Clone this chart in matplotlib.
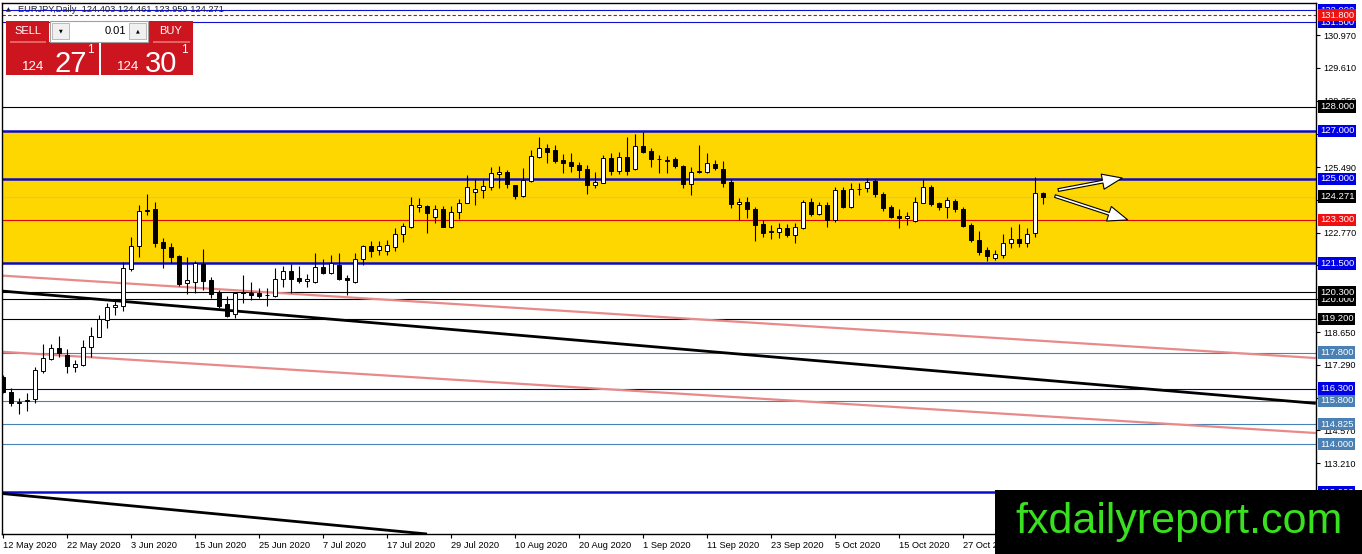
import matplotlib
matplotlib.use('Agg')
import matplotlib.pyplot as plt
from matplotlib.patches import Rectangle
from matplotlib.transforms import blended_transform_factory

# ---------------- data ----------------
opens = [116.80, 116.15, 115.69, 115.80, 115.86, 117.04, 117.54, 117.97, 117.70, 117.18,
         117.29, 118.01, 118.46, 119.15, 119.70, 119.73, 121.25, 122.23, 123.70, 123.74,
         122.40, 122.16, 121.80, 120.67, 120.74, 121.47, 120.81, 120.26, 119.81, 119.40,
         120.30, 120.28, 120.26, 120.17, 120.15, 120.84, 121.18, 120.88, 120.75, 120.74,
         121.33, 121.11, 121.43, 120.88, 120.74, 121.67, 122.22, 122.05, 122.02, 122.19,
         122.70, 123.02, 123.82, 123.88, 123.41, 123.74, 123.02, 123.64, 123.99, 124.47,
         124.54, 124.68, 125.19, 125.30, 124.75, 124.29, 124.93, 125.92, 126.27, 126.20,
         125.79, 125.72, 125.58, 125.40, 124.75, 124.85, 125.86, 125.34, 125.90, 125.40,
         126.37, 126.17, 125.83, 125.76, 125.81, 125.54, 124.79, 125.28, 125.30, 125.62,
         125.40, 124.89, 123.96, 124.04, 123.74, 123.13, 122.80, 122.79, 122.95, 122.67,
         122.95, 124.06, 123.55, 123.92, 123.30, 124.54, 123.85, 124.57, 124.61, 124.93,
         124.38, 123.85, 123.46, 123.37, 123.27, 124.01, 124.68, 124.01, 123.82, 124.10,
         123.74, 123.09, 122.47, 122.05, 121.71, 121.84, 122.33, 122.50, 122.33, 122.77,
         124.403]
highs = [116.87, 116.31, 115.90, 116.10, 117.18, 118.15, 118.15, 118.48, 117.93, 117.49,
         118.32, 118.87, 119.35, 119.87, 119.95, 121.57, 122.58, 123.92, 124.38, 124.06,
         122.54, 122.33, 121.84, 121.75, 121.60, 122.09, 120.94, 120.39, 120.14, 120.32,
         121.01, 120.74, 120.46, 120.46, 121.29, 121.39, 121.47, 121.39, 121.06, 121.94,
         121.67, 121.84, 121.91, 121.01, 121.91, 122.26, 122.44, 122.44, 122.47, 122.95,
         123.16, 124.26, 124.20, 123.90, 123.92, 123.88, 123.88, 124.16, 125.16, 124.99,
         124.99, 125.48, 125.54, 125.37, 124.75, 125.44, 126.20, 126.73, 126.45, 126.41,
         126.04, 126.06, 125.72, 125.58, 125.30, 125.99, 126.09, 126.13, 126.75, 126.87,
         126.96, 126.27, 125.99, 125.95, 125.90, 125.58, 125.51, 126.41, 126.06, 125.79,
         125.76, 124.99, 124.20, 124.26, 123.85, 123.30, 123.09, 123.16, 123.13, 123.19,
         124.13, 124.20, 124.06, 124.06, 124.68, 124.68, 124.85, 124.85, 125.03, 124.99,
         124.47, 123.90, 123.74, 123.64, 124.24, 124.99, 124.75, 124.06, 124.26, 124.16,
         123.85, 123.16, 122.85, 122.19, 122.05, 122.72, 122.99, 123.13, 122.95, 125.09,
         124.461]
lows = [116.12, 115.59, 115.25, 115.38, 115.72, 116.96, 117.49, 117.62, 116.93, 117.00,
        117.24, 117.62, 118.43, 118.80, 119.36, 119.53, 121.19, 121.77, 123.50, 122.16,
        121.29, 121.50, 120.56, 120.23, 120.26, 120.39, 120.05, 119.63, 119.28, 119.24,
        119.84, 119.98, 120.05, 119.73, 120.09, 120.53, 120.26, 120.67, 120.53, 120.67,
        121.06, 121.06, 120.81, 120.18, 120.70, 121.43, 121.77, 121.84, 121.84, 122.02,
        122.40, 122.98, 123.64, 122.77, 123.18, 122.99, 122.95, 123.33, 123.99, 123.92,
        124.20, 124.54, 124.61, 124.61, 124.16, 124.24, 124.89, 125.86, 125.67, 125.65,
        125.26, 125.30, 125.03, 124.38, 124.61, 124.82, 125.16, 125.20, 125.16, 125.37,
        126.09, 125.51, 125.23, 125.26, 125.47, 124.61, 124.33, 125.23, 125.23, 125.37,
        124.68, 123.78, 123.30, 123.37, 122.44, 122.60, 122.50, 122.54, 122.58, 122.33,
        122.91, 123.46, 123.50, 122.99, 123.23, 123.78, 123.78, 124.33, 124.47, 124.24,
        123.68, 123.37, 122.95, 123.09, 123.23, 123.99, 123.88, 123.71, 123.37, 123.64,
        122.99, 122.37, 121.84, 121.61, 121.64, 121.71, 122.12, 122.16, 122.16, 122.60,
        123.959]
closes = [116.17, 115.69, 115.76, 115.83, 117.07, 117.56, 117.97, 117.76, 117.25, 117.31,
          118.01, 118.48, 119.18, 119.67, 119.75, 121.29, 122.23, 123.67, 123.66, 122.36,
          122.15, 121.77, 120.64, 120.81, 121.50, 120.77, 120.23, 119.73, 119.31, 120.28,
          120.26, 120.18, 120.15, 120.19, 120.84, 121.18, 120.86, 120.75, 120.85, 121.33,
          121.11, 121.50, 120.84, 120.81, 121.67, 122.22, 122.01, 122.23, 122.26, 122.72,
          123.05, 123.92, 123.90, 123.60, 123.74, 122.99, 123.64, 123.99, 124.65, 124.57,
          124.71, 125.24, 125.30, 124.78, 124.29, 124.96, 125.95, 126.27, 126.13, 125.76,
          125.65, 125.54, 125.37, 124.75, 124.87, 125.86, 125.34, 125.90, 125.34, 126.37,
          126.13, 125.81, 125.81, 125.78, 125.54, 124.79, 125.30, 125.32, 125.68, 125.44,
          124.85, 123.96, 124.04, 123.74, 123.09, 122.77, 122.83, 122.95, 122.67, 122.99,
          124.06, 123.55, 123.92, 123.30, 124.54, 123.85, 124.57, 124.59, 124.89, 124.38,
          123.78, 123.43, 123.37, 123.46, 124.06, 124.68, 123.96, 123.82, 124.13, 123.74,
          123.05, 122.47, 121.98, 121.80, 121.87, 122.33, 122.50, 122.33, 122.72, 124.40,
          124.271]

date_labels = ["12 May 2020", "22 May 2020", "3 Jun 2020", "15 Jun 2020", "25 Jun 2020",
               "7 Jul 2020", "17 Jul 2020", "29 Jul 2020", "10 Aug 2020", "20 Aug 2020",
               "1 Sep 2020", "11 Sep 2020", "23 Sep 2020", "5 Oct 2020", "15 Oct 2020",
               "27 Oct 2020"]
date_bar_index = [0, 8, 16, 24, 32, 40, 48, 56, 64, 72, 80, 88, 96, 104, 112, 120]

price_ticks = [130.970, 129.610, 128.250, 126.870, 125.490, 124.130, 122.770,
               121.410, 120.030, 118.650, 117.290, 115.930, 114.570, 113.210]

zone_low, zone_high = 121.5, 127.0
level_values = [132.0, 131.5, 131.8, 128.0, 127.0, 125.0, 124.271, 123.3, 121.5,
                120.0, 120.3, 119.2, 117.8, 116.3, 115.8, 114.825, 114.0, 112.0]
level_kinds = ['blue', 'blue', 'red', 'black', 'blueT', 'blueT', 'bid', 'red', 'blueT',
               'black', 'black', 'black', 'steel', 'navy', 'steel', 'steel', 'steel', 'blueT']

# trend lines: (bar index, price) endpoints
black_line1 = [(-0.125, 120.35), (164.1, 115.69)]
black_line2 = [(-0.125, 111.95), (53.0, 110.27)]
pink_line1 = [(-0.125, 120.99), (164.1, 117.57)]
pink_line2 = [(-0.125, 117.83), (164.1, 114.46)]
arrow_up = [(131.9, 124.54), (139.9, 125.04)]
arrow_down = [(131.5, 124.29), (140.6, 123.30)]

header = "EURJPY,Daily  124.403 124.461 123.959 124.271"

# ---------------- figure ----------------
W, H = 1362, 554
fig = plt.figure(figsize=(W / 100, H / 100), dpi=100)
fig.patch.set_facecolor('white')
L, R, T, B = 2, 1316, 3, 534
ax = fig.add_axes([L / W, (H - B) / H, (R - L) / W, (B - T) / H])
ax.set_facecolor('white')
ax.set_xlim(-0.125, 164.125)
ax.set_ylim(110.27, 132.30)

FONT = 'Liberation Sans'

# zone
ax.axhspan(zone_low, zone_high, color='#FFD700', zorder=0, lw=0)

style = {
    'blue': dict(color='#1010D0', lw=0.8, ls='-'),
    'blueT': dict(color='#0A0ACD', lw=1.8, ls='-'),
    'red': dict(color='#E00000', lw=0.8, ls='-'),
    'black': dict(color='black', lw=0.8, ls='-'),
    'bid': dict(color='#C0C0C0', lw=0.8, ls='-'),
    'steel': dict(color='#4682B4', lw=0.8, ls='-'),
    'navy': dict(color='#00008B', lw=0.8, ls='-'),
}
label_bg = {'blue': '#0000E6', 'blueT': '#0000E6', 'red': '#F01010', 'black': 'black',
            'bid': 'black', 'steel': '#4A80B4', 'navy': '#0000E6'}

for v, k in zip(level_values, level_kinds):
    st = dict(style[k])
    if v == 131.8:
        st['ls'] = (0, (3, 2))
    ax.axhline(v, zorder=1, **st)

def seg(pts, **kw):
    ax.plot([p[0] for p in pts], [p[1] for p in pts], solid_capstyle='butt', **kw)

seg(pink_line1, color='#E88A8A', lw=1.6, zorder=2)
seg(pink_line2, color='#E88A8A', lw=1.6, zorder=2)
seg(black_line1, color='black', lw=2.0, zorder=2)
seg(black_line2, color='black', lw=2.0, zorder=2)

# candles
idx = list(range(len(opens)))
ax.vlines(idx, lows, highs, color='black', lw=0.8, zorder=3)
bottoms = [min(o, c) for o, c in zip(opens, closes)]
heights = [max(abs(c - o), 0.02) for o, c in zip(opens, closes)]
colors = ['white' if c >= o else 'black' for o, c in zip(opens, closes)]
ax.bar(idx, heights, bottom=bottoms, width=0.62, color=colors, edgecolor='black',
       linewidth=0.7, zorder=4)

# arrows
for a in (arrow_up, arrow_down):
    ax.annotate('', xy=a[1], xytext=a[0],
                arrowprops=dict(arrowstyle='simple,head_length=1.3,head_width=1.0,tail_width=0.18',
                                fc='white', ec='black', lw=0.8, mutation_scale=11,
                                shrinkA=0, shrinkB=0), zorder=5)

# axes styling
for s in ax.spines.values():
    s.set_color('black')
    s.set_linewidth(1.0)
ax.yaxis.tick_right()
ax.set_yticks(price_ticks)
ax.set_yticklabels(['%.3f' % t for t in price_ticks], fontsize=6.6, family=FONT)
ax.tick_params(axis='y', length=3, width=0.8, pad=2.5, colors='black')
ax.set_xticks(date_bar_index)
ax.set_xticklabels(date_labels, fontsize=6.7, family=FONT)
for lab in ax.get_xticklabels():
    lab.set_ha('left')
ax.tick_params(axis='x', length=3, width=0.8, pad=2, colors='black')

# right-side level labels
tr = blended_transform_factory(ax.transAxes, ax.transData)
for v, k in zip(level_values, level_kinds):
    ax.text(1.0 + 4 / (R - L), v, '%.3f' % v, transform=tr, ha='left', va='center',
            color='white', fontsize=6.8, family=FONT, clip_on=False, zorder=20,
            bbox=dict(boxstyle='square,pad=0.18', fc=label_bg[k], ec='none'))

# ---------------- overlay (pixel coordinates, top-left origin) ----------------
def rect(x0, y0, x1, y1, **kw):
    fig.add_artist(Rectangle((x0 / W, 1 - y1 / H), (x1 - x0) / W, (y1 - y0) / H,
                             transform=fig.transFigure, **kw))

def ftext(x, y, s, **kw):
    fig.text(x / W, 1 - y / H, s, **kw)

ftext(6, 10, '\u25B2', fontsize=4.5, color='#202030', va='center', ha='left')
ftext(18, 10, header, fontsize=6.7, color='#202030', va='center', ha='left', family=FONT)

RED = '#CD1520'
rect(6, 21, 49, 42, fc=RED, ec='none', zorder=30)
rect(149, 21, 193, 42, fc=RED, ec='none', zorder=30)
rect(6, 42, 99, 75, fc=RED, ec='none', zorder=30)
rect(101, 42, 193, 75, fc=RED, ec='none', zorder=30)
rect(10, 41.5, 46, 42.5, fc='#E86060', ec='none', zorder=31)
rect(153, 41.5, 190, 42.5, fc='#E86060', ec='none', zorder=31)
rect(50, 21, 148, 42, fc='white', ec='#A0A0A0', lw=0.8, zorder=30)
rect(52, 23, 69, 39, fc='#F0F0F0', ec='#B0B0B0', lw=0.6, zorder=31)
rect(129, 23, 146, 39, fc='#F0F0F0', ec='#B0B0B0', lw=0.6, zorder=31)
ftext(60.5, 31, '\u25BC', fontsize=3.5, color='black', ha='center', va='center', zorder=32)
ftext(137.5, 31, '\u25B2', fontsize=3.5, color='black', ha='center', va='center', zorder=32)
ftext(126, 31, '0.01', fontsize=8, color='black', ha='right', va='center', family=FONT, zorder=32)
ftext(27.5, 31.5, 'SELL', fontsize=8, color='white', ha='center', va='center', family=FONT, zorder=32)
ftext(171, 31.5, 'BUY', fontsize=8, color='white', ha='center', va='center', family=FONT, zorder=32)
ftext(22, 69.5, '124', fontsize=9.5, color='white', ha='left', va='baseline', family=FONT, zorder=32)
ftext(55, 71.5, '27', fontsize=21, color='white', ha='left', va='baseline', family=FONT, zorder=32)
ftext(87, 53, '1', fontsize=8.5, color='white', ha='left', va='baseline', family=FONT, zorder=32)
ftext(117, 69.5, '124', fontsize=9.5, color='white', ha='left', va='baseline', family=FONT, zorder=32)
ftext(145, 71.5, '30', fontsize=21, color='white', ha='left', va='baseline', family=FONT, zorder=32)
ftext(181, 53, '1', fontsize=8.5, color='white', ha='left', va='baseline', family=FONT, zorder=32)

# watermark
rect(995, 490, 1362, 554, fc='black', ec='none', zorder=40)
ftext(1179, 533, 'fxdailyreport.com', fontsize=31, color='#39E01F', ha='center',
      va='baseline', family=FONT, zorder=41)

fig.savefig('out.png', dpi=100)
